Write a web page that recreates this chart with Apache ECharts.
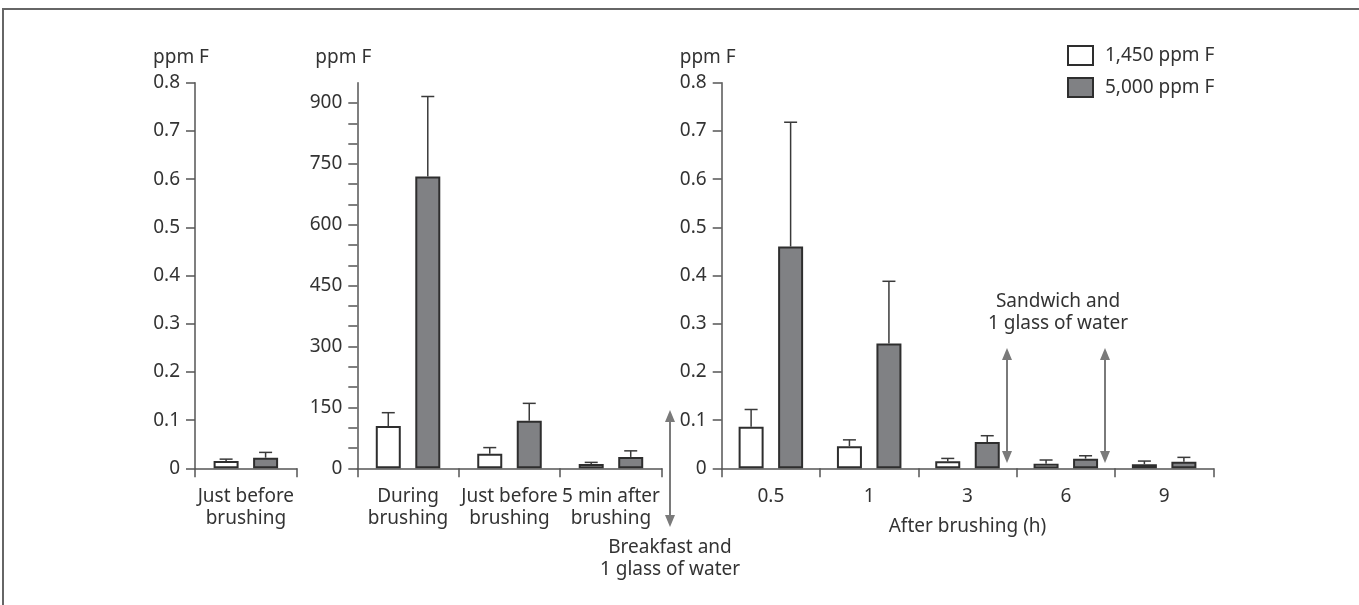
<!DOCTYPE html>
<html>
<head>
<meta charset="utf-8">
<script src="https://cdn.jsdelivr.net/npm/echarts@6/dist/echarts.min.js"></script>
<style>html,body{margin:0;padding:0;background:#fff;}#c{width:1359px;height:605px;}</style>
</head>
<body>
<div id="c"></div>
<script>
// ---- data ----
const seriesNames = ['1,450 ppm F', '5,000 ppm F'];
const leftCats = ['Just before\nbrushing'];
const midCats = ['During\nbrushing', 'Just before\nbrushing', '5 min after\nbrushing'];
const rightCats = ['0.5', '1', '3', '6', '9'];

const leftLow = [0.015];
const leftLowSD = [0.004];
const leftHigh = [0.022];
const leftHighSD = [0.011];

const midLow = [104, 36, 10.6];
const midLowSD = [33, 15, 4];
const midHigh = [719, 117, 28];
const midHighSD = [197, 43, 15];

const rightLow = [0.086, 0.046, 0.0145, 0.0096, 0.0083];
const rightLowSD = [0.036, 0.013, 0.006, 0.0076, 0.0067];
const rightHigh = [0.46, 0.259, 0.0546, 0.02, 0.0137];
const rightHighSD = [0.258, 0.129, 0.013, 0.006, 0.009];

const yTicksSmall = [0, 0.8, 0.1];   // min, max, interval
const yTicksMid = [0, 950, 50, 150]; // min, max, tick interval, label interval

// ---- style ----
const FONT = 'Noto Sans';
const FS = 19;
const TXT = '#333';
const AX = '#555';
const GRAYFILL = '#808184';
const BORDER = '#2e2e2e';
const ARROW = '#7a7a7a';
const BW = 25, GAP = 0.58;
const OFF = (BW + BW * GAP) / 2;

const grids = [
  {left: 195, top: 82.7, width: 101.7, height: 385.6},
  {left: 357.3, top: 82.7, width: 304.4, height: 385.6},
  {left: 721.7, top: 82.7, width: 491.6, height: 385.6}
];
const catsList = [leftCats, midCats, rightCats];

function xAxis(i) {
  const a = {
    type: 'category', gridIndex: i, data: catsList[i],
    axisLine: {lineStyle: {color: AX, width: 1.5}},
    axisTick: {show: true, length: 9, lineStyle: {color: AX, width: 1.5}},
    axisLabel: {color: TXT, fontFamily: FONT, fontSize: FS, lineHeight: 22, margin: 17, interval: 0}
  };
  if (i === 2) {
    a.name = 'After brushing (h)';
    a.nameLocation = 'middle';
    a.nameGap = 49;
    a.nameTextStyle = {color: TXT, fontFamily: FONT, fontSize: FS};
  }
  return a;
}
function yAxis(i) {
  const mid = i === 1;
  return {
    type: 'value', gridIndex: i,
    min: mid ? yTicksMid[0] : yTicksSmall[0],
    max: mid ? yTicksMid[1] : yTicksSmall[1],
    interval: mid ? yTicksMid[2] : yTicksSmall[2],
    name: 'ppm F', nameLocation: 'end', nameGap: 16,
    nameTextStyle: {color: TXT, fontFamily: FONT, fontSize: FS, align: 'center', padding: [0, 28, 0, 0]},
    splitLine: {show: false},
    axisLine: {show: true, lineStyle: {color: AX, width: 1.5}},
    axisTick: {show: true, length: 9, lineStyle: {color: AX, width: 1.5}},
    axisLabel: {
      color: TXT, fontFamily: FONT, fontSize: FS, margin: 15,
      showMaxLabel: !mid,
      formatter: function (v) {
        if (mid) return (Math.round(v) % yTicksMid[3] === 0) ? String(Math.round(v)) : '';
        return v === 0 ? '0' : v.toFixed(1);
      }
    }
  };
}

const lows = [leftLow, midLow, rightLow], lowSD = [leftLowSD, midLowSD, rightLowSD];
const highs = [leftHigh, midHigh, rightHigh], highSD = [leftHighSD, midHighSD, rightHighSD];

function errSeries(i, means, sds, dir) {
  return {
    type: 'custom', xAxisIndex: i, yAxisIndex: i, z: 5,
    data: means.map((m, k) => [k, m, sds[k]]),
    encode: {x: 0, y: 1},
    renderItem: function (params, api) {
      const k = api.value(0), m = api.value(1), s = api.value(2);
      const p0 = api.coord([k, m]);
      const p1 = api.coord([k, m + s]);
      const x = p0[0] + dir * OFF;
      const st = {stroke: '#3a3a3a', lineWidth: 1.5};
      return {type: 'group', children: [
        {type: 'line', shape: {x1: x, y1: p0[1], x2: x, y2: p1[1]}, style: st},
        {type: 'line', shape: {x1: x - 6.5, y1: p1[1], x2: x + 6.5, y2: p1[1]}, style: st}
      ]};
    },
    silent: true
  };
}

const series = [];
for (let i = 0; i < 3; i++) {
  series.push({
    name: seriesNames[0], type: 'bar', xAxisIndex: i, yAxisIndex: i,
    data: lows[i], barWidth: BW, barGap: (GAP * 100) + '%',
    itemStyle: {color: '#fff', borderColor: BORDER, borderWidth: 2}
  });
  series.push({
    name: seriesNames[1], type: 'bar', xAxisIndex: i, yAxisIndex: i,
    data: highs[i], barWidth: BW, barGap: (GAP * 100) + '%',
    itemStyle: {color: GRAYFILL, borderColor: BORDER, borderWidth: 2}
  });
  series.push(errSeries(i, lows[i], lowSD[i], -1));
  series.push(errSeries(i, highs[i], highSD[i], 1));
}

function dblArrow(x, y1, y2) {
  const h = 12, w = 5;
  return [
    {type: 'line', shape: {x1: x, y1: y1 + 6, x2: x, y2: y2 - 6}, style: {stroke: ARROW, lineWidth: 2}},
    {type: 'polygon', shape: {points: [[x, y1], [x - w, y1 + h], [x + w, y1 + h]]}, style: {fill: ARROW}},
    {type: 'polygon', shape: {points: [[x, y2], [x - w, y2 - h], [x + w, y2 - h]]}, style: {fill: ARROW}}
  ];
}
function label(x, y, text) {
  return {type: 'text', x: x, y: y, style: {text: text, fill: TXT, font: FS + 'px "' + FONT + '"', align: 'center', verticalAlign: 'middle', lineHeight: 22}};
}

const graphic = [
  {type: 'rect', shape: {x: 3, y: 9, width: 1400, height: 700}, style: {fill: 'none', stroke: '#666', lineWidth: 2}, z: -1},
  ...dblArrow(670, 410, 527),
  ...dblArrow(1007, 348, 463),
  ...dblArrow(1105, 348, 463),
  label(670, 559, 'Breakfast and\n1 glass of water'),
  label(1058, 313, 'Sandwich and\n1 glass of water')
];

const chart = echarts.init(document.getElementById('c'), null, {renderer: 'canvas'});
chart.setOption({
  animation: false,
  backgroundColor: '#fff',
  textStyle: {fontFamily: FONT},
  grid: grids,
  xAxis: [0, 1, 2].map(xAxis),
  yAxis: [0, 1, 2].map(yAxis),
  legend: {
    data: seriesNames, orient: 'vertical', left: 1062, top: 40,
    itemWidth: 25, itemHeight: 19, itemGap: 11, icon: 'rect',
    textStyle: {color: TXT, fontFamily: FONT, fontSize: FS, padding: [0, 0, 0, 7]},
    selectedMode: false
  },
  series: series,
  graphic: graphic
});
</script>
</body>
</html>
